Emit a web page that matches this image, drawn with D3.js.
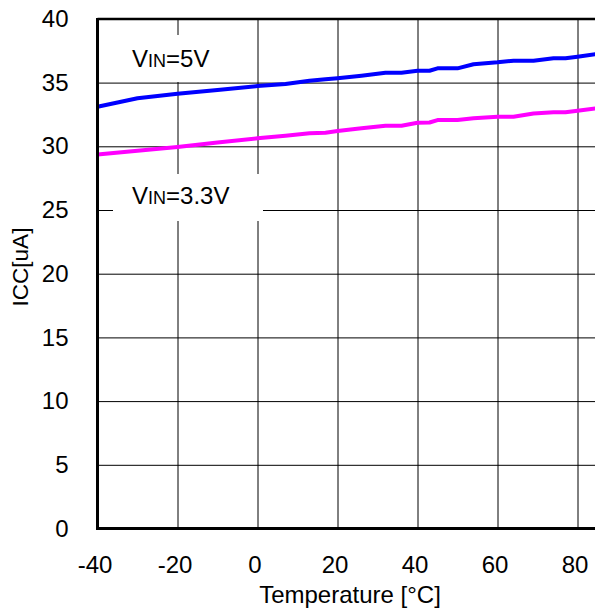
<!DOCTYPE html>
<html>
<head>
<meta charset="utf-8">
<script src="https://cdn.jsdelivr.net/npm/d3@7/dist/d3.min.js"></script>
<style>
  html, body { margin: 0; padding: 0; background: #fff; overflow: hidden; }
  svg { display: block; font-family: "Liberation Sans", Arial, sans-serif; }
</style>
</head>
<body>
<svg id="chart" width="595" height="613"></svg>
<script>
// ---- data ----
const temps = [-40, -30, -20, -10, 0, 7, 13, 17, 20, 26, 32, 36, 40, 43, 45, 50, 54, 60, 64, 69, 74, 77, 80, 85];
const iccVin5 = [33.11, 33.77, 34.12, 34.42, 34.73, 34.89, 35.15, 35.26, 35.34, 35.54, 35.78, 35.78, 35.93, 35.93, 36.12, 36.12, 36.44, 36.59, 36.72, 36.72, 36.91, 36.91, 37.03, 37.25];
const iccVin33 = [29.35, 29.65, 29.95, 30.3, 30.63, 30.83, 31.02, 31.07, 31.2, 31.41, 31.62, 31.62, 31.85, 31.87, 32.06, 32.06, 32.2, 32.32, 32.32, 32.58, 32.67, 32.67, 32.79, 33.0];
const seriesNames = ["VIN=5V", "VIN=3.3V"];
const seriesColors = ["#0000ff", "#ff00ff"];
const xTicks = [-40, -20, 0, 20, 40, 60, 80];
const yTicks = [0, 5, 10, 15, 20, 25, 30, 35, 40];
const xTitle = "Temperature [°C]";
const yTitle = "ICC[uA]";

// ---- layout ----
const svg = d3.select("#chart");
const L = 97.5, R = 597.5, T = 18.9, B = 528.5;
const x = d3.scaleLinear().domain([-40, 85]).range([L, R]);
const y = d3.scaleLinear().domain([0, 40]).range([B, T]);
const FS = 24;
const fmt = d => String(d);

// gridlines
const gx = svg.append("g").attr("transform", `translate(0,${B})`)
  .call(d3.axisBottom(x).tickValues(xTicks).tickSize(-(B - T)).tickFormat(""));
gx.select(".domain").remove();
gx.selectAll("line").attr("stroke", "#000").attr("stroke-width", 1);

const gy = svg.append("g").attr("transform", `translate(${L},0)`)
  .call(d3.axisLeft(y).tickValues(yTicks).tickSize(-(R - L)).tickFormat(""));
gy.select(".domain").remove();
gy.selectAll("line").attr("stroke", "#000").attr("stroke-width", 1);

// label background boxes
svg.append("rect").attr("x", 113).attr("y", 35).attr("width", 142).attr("height", 47).attr("fill", "#fff");
svg.append("rect").attr("x", 113).attr("y", 174).attr("width", 150).attr("height", 47).attr("fill", "#fff");

// lines
const line = d3.line().x((d, i) => x(temps[i])).y(d => y(d));
[iccVin5, iccVin33].forEach((vals, k) => {
  svg.append("path").datum(vals)
    .attr("d", line)
    .attr("fill", "none")
    .attr("stroke", seriesColors[k])
    .attr("stroke-width", 4)
    .attr("stroke-linejoin", "round");
});

// frame
svg.append("line").attr("x1", L).attr("x2", R).attr("y1", T).attr("y2", T).attr("stroke", "#000").attr("stroke-width", 2.5);
svg.append("line").attr("x1", L).attr("x2", R).attr("y1", B).attr("y2", B).attr("stroke", "#000").attr("stroke-width", 3);
svg.append("line").attr("x1", L).attr("x2", L).attr("y1", T - 1).attr("y2", B + 1.5).attr("stroke", "#000").attr("stroke-width", 3);

// tick labels
const lx = svg.append("g").attr("transform", `translate(0,${B})`)
  .call(d3.axisBottom(x).tickValues(xTicks).tickSize(0).tickPadding(27.5).tickFormat(fmt));
lx.select(".domain").remove();
lx.selectAll("text").attr("font-size", FS).attr("font-family", null).attr("fill", "#000").attr("dx", -3);

const ly = svg.append("g").attr("transform", `translate(${L},0)`)
  .call(d3.axisLeft(y).tickValues(yTicks).tickSize(0).tickPadding(29).tickFormat(fmt));
ly.select(".domain").remove();
ly.selectAll("text").attr("font-size", FS).attr("font-family", null).attr("fill", "#000");

// axis titles
svg.append("text").attr("x", 350).attr("y", 603).attr("text-anchor", "middle")
  .attr("font-size", FS).text(xTitle);
svg.append("text").attr("transform", "translate(28,267) rotate(-90)").attr("text-anchor", "middle")
  .attr("font-size", 22.5).text(yTitle);

// series labels with small "IN"
function seriesLabel(name, lx0, ly0) {
  const t = svg.append("text").attr("x", lx0).attr("y", ly0).attr("font-size", FS);
  t.append("tspan").text(name.slice(0, 1));
  t.append("tspan").attr("font-size", 18).text(name.slice(1, 3));
  t.append("tspan").text(name.slice(3));
}
seriesLabel(seriesNames[0], 132, 67);
seriesLabel(seriesNames[1], 132, 203.5);
</script>
</body>
</html>
